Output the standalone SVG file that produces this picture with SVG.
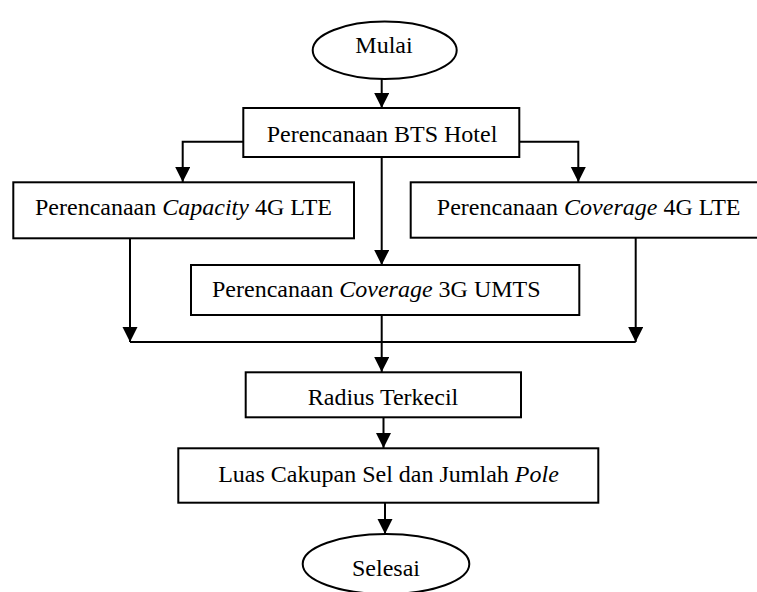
<svg xmlns="http://www.w3.org/2000/svg" width="757" height="592" viewBox="0 0 757 592">
<defs>
<style>
.box{fill:#fff;stroke:#000;stroke-width:2}
.lbl{font-family:"Liberation Serif","Times New Roman",serif;font-size:24px;fill:#000}
.c{text-anchor:middle}
.it{font-style:italic}
.ln{fill:none;stroke:#000;stroke-width:2}
</style>
<marker id="ah" markerUnits="userSpaceOnUse" markerWidth="16" markerHeight="16" refX="15" refY="7.5" orient="auto">
<path d="M0,0 L15,7.5 L0,15 z" fill="#000"/>
</marker>
</defs>
<rect width="757" height="592" fill="#fff"/>
<g id="connectors">
<path class="ln" d="M381.7,79 V108" marker-end="url(#ah)"/>
<path class="ln" d="M243,141.7 H182.7 V182" marker-end="url(#ah)"/>
<path class="ln" d="M519.3,141.7 H578.3 V182" marker-end="url(#ah)"/>
<path class="ln" d="M381.7,157 V265" marker-end="url(#ah)"/>
<path class="ln" d="M130,238 V342" marker-end="url(#ah)"/>
<path class="ln" d="M635.7,238 V342" marker-end="url(#ah)"/>
<path class="ln" d="M130,342 H635.7"/>
<path class="ln" d="M381.7,315 V372" marker-end="url(#ah)"/>
<path class="ln" d="M383.5,417 V448" marker-end="url(#ah)"/>
<path class="ln" d="M385,503 V534" marker-end="url(#ah)"/>
</g>
<g id="mulai">
<ellipse class="box" cx="384.7" cy="50.3" rx="72" ry="28.7"/>
<text class="lbl c" x="384" y="53">Mulai</text>
</g>
<g id="bts-hotel">
<rect class="box" x="243.3" y="108" width="276" height="49"/>
<text class="lbl c" x="382" y="142">Perencanaan BTS Hotel</text>
</g>
<g id="capacity-4g">
<rect class="box" x="13.3" y="182.3" width="340.7" height="56"/>
<text class="lbl c" x="183.5" y="215">Perencanaan <tspan class="it">Capacity</tspan> 4G LTE</text>
</g>
<g id="coverage-4g">
<rect class="box" x="410.7" y="182.3" width="356" height="55.4"/>
<text class="lbl c" x="588.7" y="215">Perencanaan <tspan class="it">Coverage</tspan> 4G LTE</text>
</g>
<g id="coverage-3g">
<rect class="box" x="191" y="265" width="388.3" height="50"/>
<text class="lbl" x="212" y="297">Perencanaan <tspan class="it">Coverage</tspan> 3G UMTS</text>
</g>
<g id="radius">
<rect class="box" x="245.7" y="372.3" width="275.3" height="45"/>
<text class="lbl c" x="383" y="405">Radius Terkecil</text>
</g>
<g id="luas">
<rect class="box" x="178.3" y="448.3" width="420" height="54.4"/>
<text class="lbl c" x="388.5" y="482">Luas Cakupan Sel dan Jumlah <tspan class="it">Pole</tspan></text>
</g>
<g id="selesai">
<ellipse class="box" cx="386" cy="564" rx="83.3" ry="30"/>
<text class="lbl c" x="386" y="576">Selesai</text>
</g>
</svg>
